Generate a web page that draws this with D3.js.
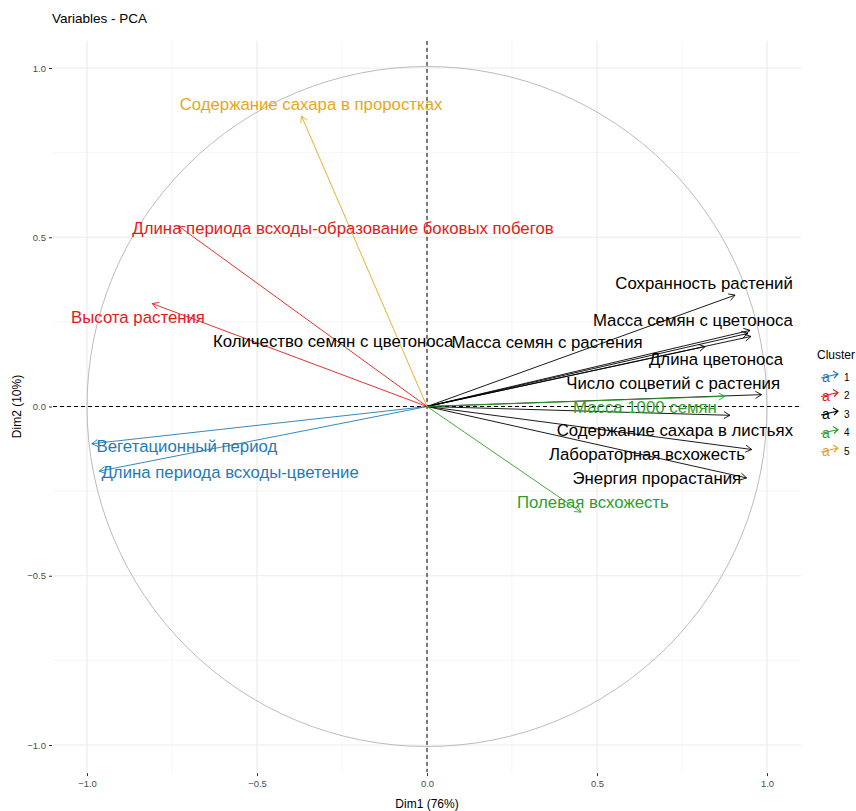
<!DOCTYPE html>
<html lang="ru">
<head>
<meta charset="utf-8">
<title>Variables - PCA</title>
<script src="https://d3js.org/d3.v7.min.js"></script>
<style>
  body { margin: 0; background: #fff; }
  text { font-family: "Liberation Sans", Arial, sans-serif; }
</style>
</head>
<body>
<script>
// variables, their cluster and coordinates on Dim1 / Dim2
var varNames = [
  "Вегетационный период",
  "Длина периода всходы-цветение",
  "Высота растения",
  "Длина периода всходы-образование боковых побегов",
  "Содержание сахара в проростках",
  "Сохранность растений",
  "Масса семян с цветоноса",
  "Масса семян с растения",
  "Количество семян с цветоноса",
  "Длина цветоноса",
  "Число соцветий с растения",
  "Содержание сахара в листьях",
  "Лабораторная всхожесть",
  "Энергия прорастания",
  "Масса 1000 семян",
  "Полевая всхожесть"
];
var clusters = ["1","1","2","2","5","3","3","3","3","3","3","3","3","3","4","4"];
var dim1 = [-0.986, -0.964, -0.808, -0.731, -0.369, 0.906, 0.950, 0.944, 0.953, 0.818, 0.984, 0.891, 0.955, 0.940, 0.876, 0.453];
var dim2 = [-0.110, -0.191, 0.304, 0.533, 0.858, 0.329, 0.225, 0.216, 0.207, 0.177, 0.035, -0.026, -0.127, -0.211, 0.030, -0.312];
// where the (repelled) labels ended up, in the same units
var labelX = [-0.706, -0.579, -0.850, -0.247, -0.341, 0.815, 0.782, 0.353, -0.276, 0.850, 0.724, 0.729, 0.647, 0.676, 0.641, 0.488];
var labelY = [-0.118, -0.195, 0.263, 0.526, 0.892, 0.363, 0.254, 0.189, 0.192, 0.139, 0.068, -0.071, -0.142, -0.213, -0.003, -0.284];

var clusterLevels = ["1","2","3","4","5"];
var clusterColors = ["#1f7bb6", "#e31a1c", "#000000", "#2ca02c", "#e6a817"];
var majorTicks = [-1.0, -0.5, 0.0, 0.5, 1.0];
var minorTicks = [-0.75, -0.25, 0.25, 0.75];

var W = 856, H = 811;
var svg = d3.select("body").append("svg")
  .attr("width", W).attr("height", H);
svg.append("rect").attr("width", W).attr("height", H).attr("fill", "#fff");

var x = d3.scaleLinear().domain([-1, 1]).range([87, 767]);
var y = d3.scaleLinear().domain([-1, 1]).range([745, 68]);
var color = d3.scaleOrdinal().domain(clusterLevels).range(clusterColors);

var px0 = x(-1.1), px1 = x(1.1), py0 = y(1.08), py1 = y(-1.08);

// grid
var grid = svg.append("g");
grid.selectAll("line.mx").data(minorTicks).enter().append("line")
  .attr("x1", d => x(d)).attr("x2", d => x(d)).attr("y1", py0).attr("y2", py1)
  .attr("stroke", "#f0f0f0").attr("stroke-width", 0.6);
grid.selectAll("line.my").data(minorTicks).enter().append("line")
  .attr("y1", d => y(d)).attr("y2", d => y(d)).attr("x1", px0).attr("x2", px1)
  .attr("stroke", "#f0f0f0").attr("stroke-width", 0.6);
grid.selectAll("line.Mx").data(majorTicks).enter().append("line")
  .attr("x1", d => x(d)).attr("x2", d => x(d)).attr("y1", py0).attr("y2", py1)
  .attr("stroke", "#ebebeb").attr("stroke-width", 1.1);
grid.selectAll("line.My").data(majorTicks).enter().append("line")
  .attr("y1", d => y(d)).attr("y2", d => y(d)).attr("x1", px0).attr("x2", px1)
  .attr("stroke", "#ebebeb").attr("stroke-width", 1.1);

// correlation circle
svg.append("circle")
  .attr("cx", x(0)).attr("cy", y(0)).attr("r", x(1) - x(0))
  .attr("fill", "none").attr("stroke", "#b3b3b3").attr("stroke-width", 0.9);

// zero lines
svg.append("line").attr("x1", px0).attr("x2", px1).attr("y1", y(0)).attr("y2", y(0))
  .attr("stroke", "#000").attr("stroke-width", 1).attr("stroke-dasharray", "4,3");
svg.append("line").attr("y1", py0).attr("y2", py1).attr("x1", x(0)).attr("x2", x(0))
  .attr("stroke", "#000").attr("stroke-width", 1).attr("stroke-dasharray", "4,3");

// axes
var xAxis = svg.append("g").attr("transform", "translate(0," + (py1 + 1) + ")")
  .call(d3.axisBottom(x).tickValues(majorTicks).tickFormat(d3.format(".1f")).tickSize(3).tickPadding(4));
var yAxis = svg.append("g").attr("transform", "translate(" + (px0 - 1) + ",0)")
  .call(d3.axisLeft(y).tickValues(majorTicks).tickFormat(d3.format(".1f")).tickSize(3).tickPadding(3));
[xAxis, yAxis].forEach(function(a) {
  a.select(".domain").remove();
  a.selectAll(".tick line").attr("stroke", "#333");
  a.selectAll(".tick text").attr("fill", "#4d4d4d").style("font-size", "9.5px")
    .style("font-family", "'Liberation Sans', Arial, sans-serif");
});

// arrows
var idx = d3.range(varNames.length);
function arrowPath(i) {
  var x0 = x(0), y0 = y(0), x1 = x(dim1[i]), y1 = y(dim2[i]);
  var a = Math.atan2(y1 - y0, x1 - x0), L = 7, s = Math.PI / 6;
  return "M" + x0 + "," + y0 + "L" + x1 + "," + y1 +
    "M" + (x1 - L * Math.cos(a - s)) + "," + (y1 - L * Math.sin(a - s)) +
    "L" + x1 + "," + y1 +
    "L" + (x1 - L * Math.cos(a + s)) + "," + (y1 - L * Math.sin(a + s));
}
svg.append("g").selectAll("path").data(idx).enter().append("path")
  .attr("d", arrowPath)
  .attr("fill", "none")
  .attr("stroke", i => color(clusters[i]))
  .attr("stroke-width", 0.9);

// labels
svg.append("g").selectAll("text").data(idx).enter().append("text")
  .attr("x", i => x(labelX[i]))
  .attr("y", i => y(labelY[i]))
  .attr("text-anchor", "middle")
  .attr("dominant-baseline", "central")
  .attr("fill", i => color(clusters[i]))
  .style("font-size", "16.8px")
  .text(i => varNames[i]);

// titles
svg.append("text").attr("x", px0 - 1).attr("y", 23)
  .style("font-size", "13.5px").attr("fill", "#000").text("Variables - PCA");
svg.append("text").attr("x", x(0)).attr("y", 808)
  .attr("text-anchor", "middle").style("font-size", "12px").text("Dim1 (76%)");
svg.append("text").attr("transform", "translate(21," + y(0) + ") rotate(-90)")
  .attr("text-anchor", "middle").style("font-size", "12px").text("Dim2 (10%)");

// legend
var lg = svg.append("g").attr("transform", "translate(817,0)");
lg.append("text").attr("x", 0).attr("y", 359).style("font-size", "12px").text("Cluster");
var items = lg.selectAll("g.item").data(clusterLevels).enter().append("g")
  .attr("transform", (d, k) => "translate(0," + (377 + k * 18.5) + ")");
items.append("text").attr("x", 5).attr("y", 0).attr("dominant-baseline", "central")
  .attr("fill", d => color(d)).style("font-size", "14px").text("a");
items.append("path").attr("d", "M4,1L21,-3M16,-6L21,-3L17,1")
  .attr("fill", "none").attr("stroke", d => color(d)).attr("stroke-width", 1.2);
items.append("text").attr("x", 27).attr("y", 0).attr("dominant-baseline", "central")
  .style("font-size", "10px").attr("fill", "#000").text(d => d);
</script>
</body>
</html>
